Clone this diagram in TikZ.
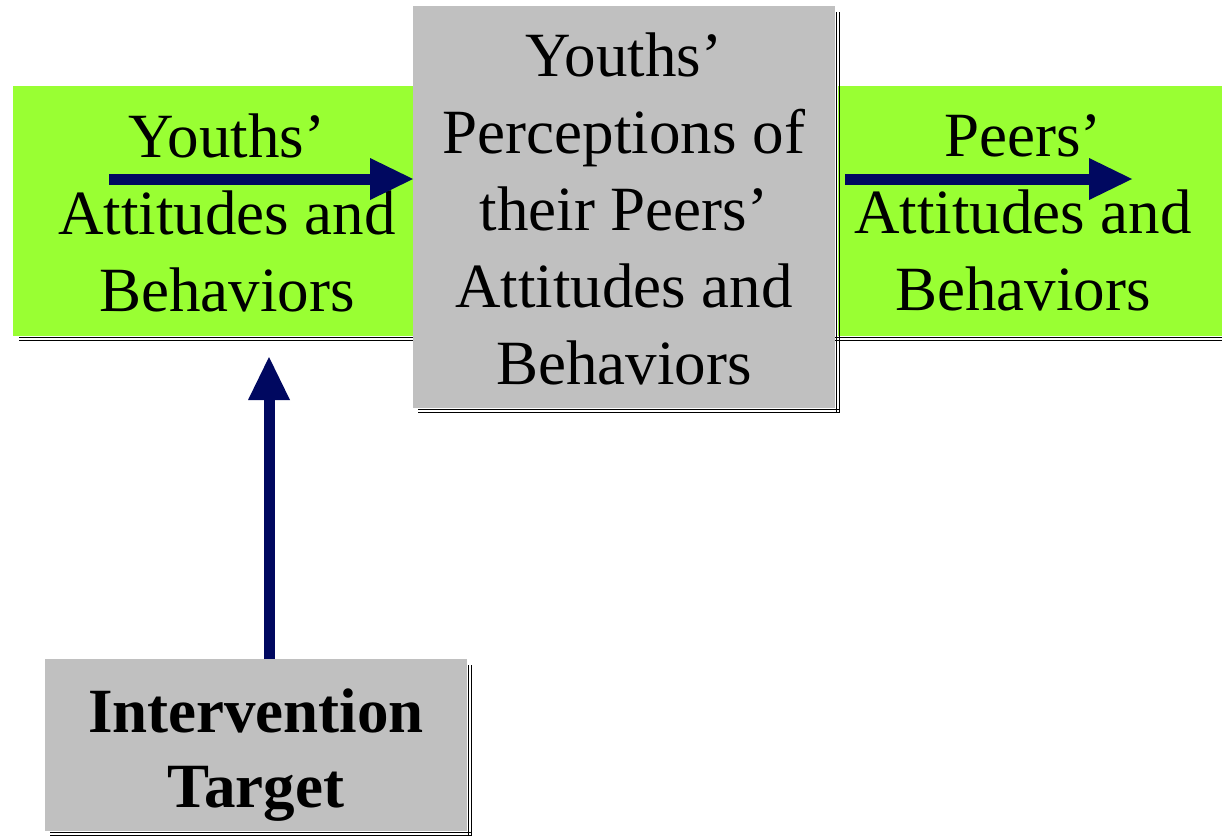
\documentclass[tikz,border=0pt]{standalone}
\usepackage{fontspec}
\setmainfont{Liberation Serif}
\usetikzlibrary{arrows.meta}
\definecolor{boxgreen}{RGB}{153,255,51}
\definecolor{boxgray}{RGB}{192,192,192}
\definecolor{arrownavy}{RGB}{0,8,96}
\tikzset{
  panel/.style={rectangle, draw=none, inner sep=0pt, outer sep=0pt, anchor=north west},
  greenbox/.style={panel, fill=boxgreen},
  graybox/.style={panel, fill=boxgray},
  shadowline/.style={draw=black, line width=1.6pt},
  txt/.style={inner sep=0pt, outer sep=0pt, anchor=base, font=\fontsize{63}{77}\selectfont},
  boldtxt/.style={inner sep=0pt, outer sep=0pt, anchor=base, font=\fontsize{63}{75}\selectfont\bfseries},
  flow/.style={draw=arrownavy, line width=11pt, -{Triangle[length=43pt,width=42pt,line width=0pt]}}
}
\begin{document}
\begin{tikzpicture}[x=1pt,y=-1pt]
\useasboundingbox[fill=white] (0,0) rectangle (1222,835);
% green boxes
\node[greenbox, minimum width=400pt, minimum height=250pt] (L) at (13,86) {};
\node[greenbox, minimum width=400pt, minimum height=250pt] (R) at (838,86) {};
\draw[shadowline] ([xshift=6pt,yshift=-1.5pt]L.south west) -- ([yshift=-1.5pt]L.south east);
\draw[shadowline] ([xshift=6pt,yshift=-4.5pt]L.south west) -- ([yshift=-4.5pt]L.south east);
\draw[shadowline] ([xshift=-3pt,yshift=-1.5pt]R.south west) -- ([yshift=-1.5pt]R.south east);
\draw[shadowline] ([xshift=-3pt,yshift=-4.5pt]R.south west) -- ([yshift=-4.5pt]R.south east);
% center gray box
\node[graybox, minimum width=422pt, minimum height=402pt] (C) at (413,6) {};
\draw[shadowline] ([xshift=5pt,yshift=-1.5pt]C.south west) -- ([xshift=5pt,yshift=-1.5pt]C.south east);
\draw[shadowline] ([xshift=5pt,yshift=-4.5pt]C.south west) -- ([xshift=5pt,yshift=-4.5pt]C.south east);
\draw[shadowline] ([xshift=1.5pt,yshift=-6pt]C.north east) -- ([xshift=1.5pt,yshift=-5pt]C.south east);
\draw[shadowline] ([xshift=4.5pt,yshift=-6pt]C.north east) -- ([xshift=4.5pt,yshift=-5pt]C.south east);
% bottom gray box
\node[graybox, minimum width=422pt, minimum height=172pt] (I) at (45,659) {};
\draw[shadowline] ([xshift=5pt,yshift=-1.5pt]I.south west) -- ([xshift=5pt,yshift=-1.5pt]I.south east);
\draw[shadowline] ([xshift=5pt,yshift=-4.5pt]I.south west) -- ([xshift=5pt,yshift=-4.5pt]I.south east);
\draw[shadowline] ([xshift=1.5pt,yshift=-6pt]I.north east) -- ([xshift=1.5pt,yshift=-5pt]I.south east);
\draw[shadowline] ([xshift=4.5pt,yshift=-6pt]I.north east) -- ([xshift=4.5pt,yshift=-5pt]I.south east);
% texts
\node[txt] (Lt) at (227,157) {\begin{tabular}[t]{@{}c@{}}Youths’\\Attitudes and\\Behaviors\end{tabular}};
\node[txt] (Ct) at (624,76) {\begin{tabular}[t]{@{}c@{}}Youths’\\Perceptions of\\their Peers’\\Attitudes and\\Behaviors\end{tabular}};
\node[txt] (Rt) at (1023,156) {\begin{tabular}[t]{@{}c@{}}Peers’\\Attitudes and\\Behaviors\end{tabular}};
\node[boldtxt] (It) at (256,732) {\begin{tabular}[t]{@{}c@{}}Intervention\\Target\end{tabular}};
% arrows
\coordinate (a1) at (109,179);
\draw[flow] (a1) -- (a1 -| C.west);
\coordinate (a2s) at (845,179);
\coordinate (a2e) at (1132,179);
\draw[flow] (a2s) -- (a2e);
\coordinate (a3e) at (269,357);
\draw[flow] (a3e |- I.north) -- (a3e);
\end{tikzpicture}
\end{document}
